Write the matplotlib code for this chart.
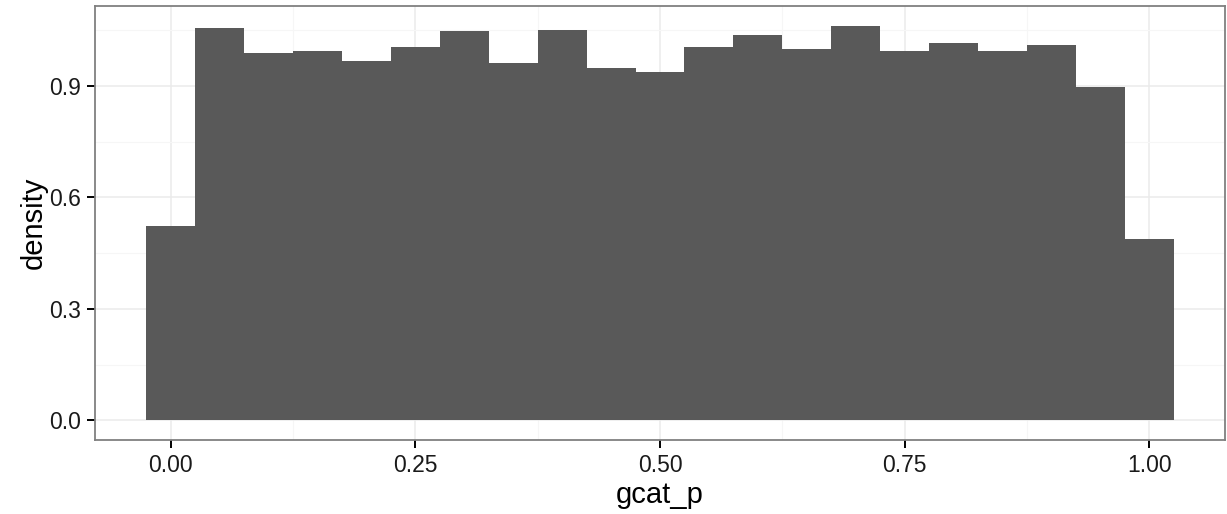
import numpy as np
import matplotlib
matplotlib.use("Agg")
import matplotlib.pyplot as plt
import matplotlib.ticker as ticker

# histogram of gcat_p, 21 bins of width 0.05 centred on 0.00 .. 1.00
bin_centers = [0.00, 0.05, 0.10, 0.15, 0.20, 0.25, 0.30, 0.35, 0.40, 0.45, 0.50,
               0.55, 0.60, 0.65, 0.70, 0.75, 0.80, 0.85, 0.90, 0.95, 1.00]
density = [0.522, 1.057, 0.988, 0.995, 0.968, 1.006, 1.049, 0.961, 1.051, 0.949, 0.938,
           1.006, 1.038, 1.000, 1.062, 0.995, 1.016, 0.995, 1.011, 0.898, 0.489]
bin_width = 0.05
x_ticks = [0.00, 0.25, 0.50, 0.75, 1.00]
y_ticks = [0.0, 0.3, 0.6, 0.9]

plt.rcParams['font.family'] = ['Liberation Sans', 'DejaVu Sans']

fig = plt.figure(figsize=(12.27, 5.14), dpi=100)
ax = fig.add_axes([95/1227, 74/514, 1130/1227, 434/514])

ax.bar(bin_centers, density, width=bin_width, color="#595959", linewidth=0, zorder=2)

# ggplot-like expansion of 5%
xlo, xhi = bin_centers[0] - bin_width/2, bin_centers[-1] + bin_width/2
pad = (xhi - xlo) * 0.05
ax.set_xlim(xlo - pad, xhi + pad)
ymax = max(density)
ax.set_ylim(-ymax*0.05, ymax*1.05)

ax.xaxis.set_major_locator(ticker.FixedLocator(x_ticks))
ax.xaxis.set_major_formatter(ticker.FixedFormatter(["%.2f" % v for v in x_ticks]))
ax.xaxis.set_minor_locator(ticker.FixedLocator([0.125, 0.375, 0.625, 0.875]))
ax.yaxis.set_major_locator(ticker.FixedLocator(y_ticks))
ax.yaxis.set_major_formatter(ticker.FixedFormatter(["%.1f" % v for v in y_ticks]))
ax.yaxis.set_minor_locator(ticker.FixedLocator([0.15, 0.45, 0.75, 1.05]))

ax.grid(which="major", color="#ebebeb", linewidth=1.1, zorder=0)
ax.grid(which="minor", color="#f6f6f6", linewidth=0.8, zorder=0)
ax.set_axisbelow(True)

for s in ax.spines.values():
    s.set_color("#808080"); s.set_linewidth(1.3)

ax.tick_params(which="major", length=6, width=1.4, color="black", labelsize=16.5, labelcolor="#1a1a1a", pad=4)
ax.tick_params(which="minor", length=0)

ax.set_xlabel("gcat_p", fontsize=21, labelpad=3)
ax.set_ylabel("density", fontsize=21, labelpad=1)

plt.savefig("out.png", dpi=100)
